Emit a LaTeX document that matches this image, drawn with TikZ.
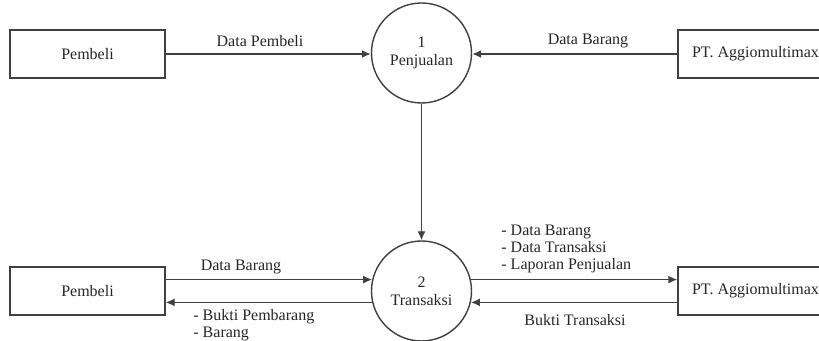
\documentclass[tikz,border=0pt]{standalone}
\usepackage{fontspec}
\setmainfont{Liberation Serif}
\usetikzlibrary{arrows.meta}
\tikzset{
  entity/.style={draw=black!75, line width=0.7pt, minimum width=77.5pt, minimum height=24pt, inner sep=0pt},
  proses/.style={circle, draw=black!75, line width=0.7pt, minimum size=50pt, inner sep=0pt, align=center, font=\fontsize{8}{9}\selectfont},
  flow/.style={->, draw=black!75, line width=0.7pt},
  lbl/.style={inner sep=0pt, text=black!85}
}
\begin{document}
\begin{tikzpicture}[x=0.5pt, y=-0.5pt, >={Latex[length=4.5pt,width=4pt]}, font=\fontsize{8}{8.5}\selectfont, text=black!85]
  \clip (0,0) rectangle (819,341);
  \node[entity] (pembeliA) at (87.5,54) {Pembeli};
  \node[proses] (jual) at (421.5,53) {1\\Penjualan};
  \node[entity] (ptA) at (755.5,54) {PT. Aggiomultimax};
  \node[entity] (pembeliB) at (87.5,291) {Pembeli};
  \node[proses] (trans) at (421.5,291) {2\\Transaksi};
  \node[entity] (ptB) at (755.5,291) {PT. Aggiomultimax};
  \draw[flow] (pembeliA) -- (pembeliA -| jual.west);
  \draw[flow] (ptA) -- (ptA -| jual.east);
  \draw[flow] (jual) -- (trans);
  \draw[flow] (pembeliB.east |- trans.167) -- (trans.167);
  \draw[flow] (trans.193) -- (pembeliB.east |- trans.193);
  \draw[flow] (trans.13) -- (ptB.west |- trans.13);
  \draw[flow] (ptB.west |- trans.347) -- (trans.347);
  \node[lbl] (lPembeli) at (260,41) {Data Pembeli};
  \node[lbl] (lBarangA) at (588,41) {Data Barang};
  \node[lbl] (lBarangB) at (241,267) {Data Barang};
  \node[lbl, anchor=north west, align=left] (lBukti) at (193,309) {- Bukti Pembarang\\- Barang};
  \node[lbl, anchor=south west, align=left] (lLaporan) at (501,273) {- Data Barang\\- Data Transaksi\\- Laporan Penjualan};
  \node[lbl] (lTransaksi) at (575,320) {Bukti Transaksi};
\end{tikzpicture}
\end{document}
